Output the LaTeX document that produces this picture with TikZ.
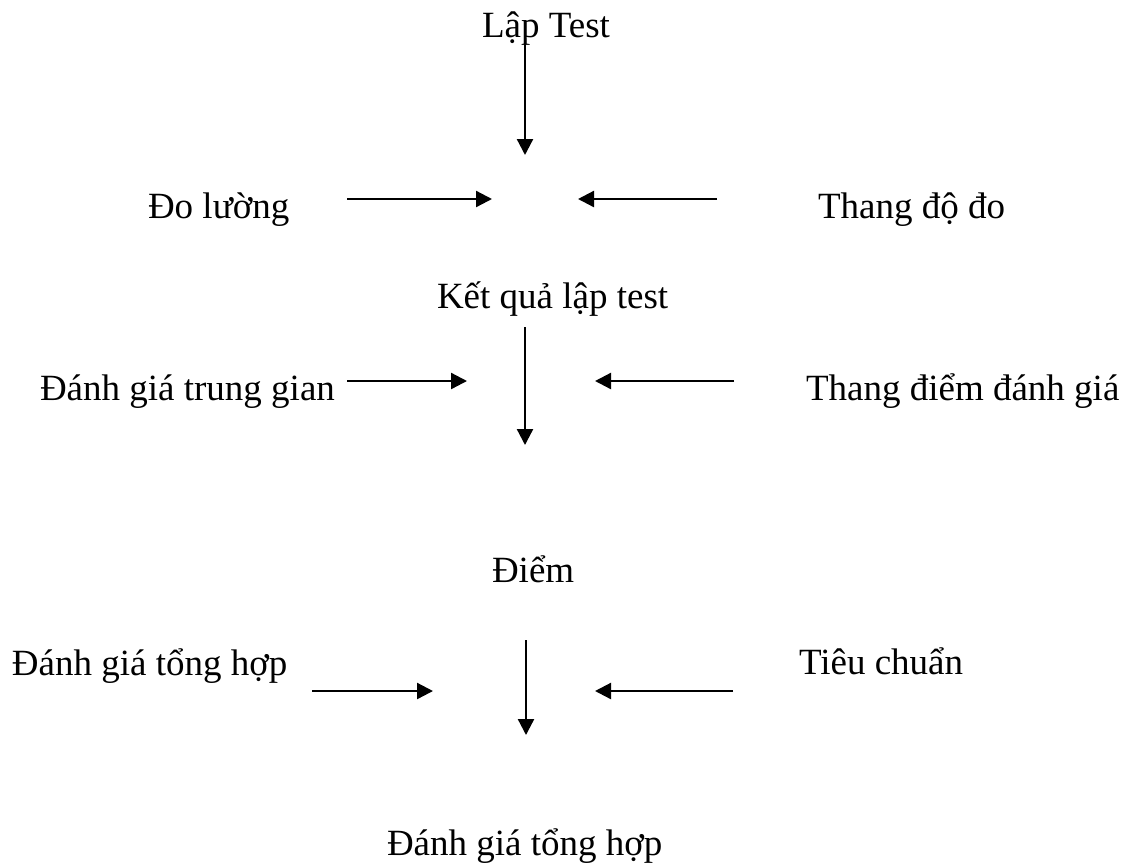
\documentclass[tikz,border=0pt]{standalone}
\usepackage{fontspec}
\setmainfont{Liberation Serif}
\usetikzlibrary{arrows.meta}
\tikzset{
  lbl/.style={anchor=base west, inner sep=0pt, outer sep=0pt, font=\fontsize{37}{44}\selectfont},
  arr/.style={line width=2.3pt, -{Triangle[length=16pt,width=16pt]}}
}
\begin{document}
\begin{tikzpicture}[x=1pt,y=-1pt]
\useasboundingbox (0,0) rectangle (1131,863);
% labels
\node[lbl] (lap) at (482,37) {Lập Test};
\node[lbl] (dol) at (148,218) {Đo lường};
\node[lbl] (tdd) at (818,218) {Thang độ đo};
\node[lbl] (kq) at (437,308) {Kết quả lập test};
\node[lbl] (dgtg) at (40,400) {Đánh giá trung gian};
\node[lbl] (tdg) at (806,400) {Thang điểm đánh giá};
\node[lbl] (diem) at (492,582) {Điểm};
\node[lbl] (dgth) at (12,675) {Đánh giá tổng hợp};
\node[lbl] (tc) at (799,674) {Tiêu chuẩn};
\node[lbl] (kqth) at (387,855) {Đánh giá tổng hợp};
% arrow end points
\coordinate (v1a) at (525,30);  \coordinate (v1b) at (525,155);
\coordinate (h1la) at (347,199); \coordinate (h1lb) at (492,199);
\coordinate (h1ra) at (717,199); \coordinate (h1rb) at (578,199);
\coordinate (v2a) at (525,327); \coordinate (v2b) at (525,445);
\coordinate (h2la) at (347,381); \coordinate (h2lb) at (467,381);
\coordinate (h2ra) at (734,381); \coordinate (h2rb) at (595,381);
\coordinate (v3a) at (526,640); \coordinate (v3b) at (526,735);
\coordinate (h3la) at (312,691); \coordinate (h3lb) at (433,691);
\coordinate (h3ra) at (733,691); \coordinate (h3rb) at (595,691);
% arrows
\draw[arr] (v1a) -- (v1b);
\draw[arr] (h1la) -- (h1lb);
\draw[arr] (h1ra) -- (h1rb);
\draw[arr] (v2a) -- (v2b);
\draw[arr] (h2la) -- (h2lb);
\draw[arr] (h2ra) -- (h2rb);
\draw[arr] (v3a) -- (v3b);
\draw[arr] (h3la) -- (h3lb);
\draw[arr] (h3ra) -- (h3rb);
\end{tikzpicture}
\end{document}
